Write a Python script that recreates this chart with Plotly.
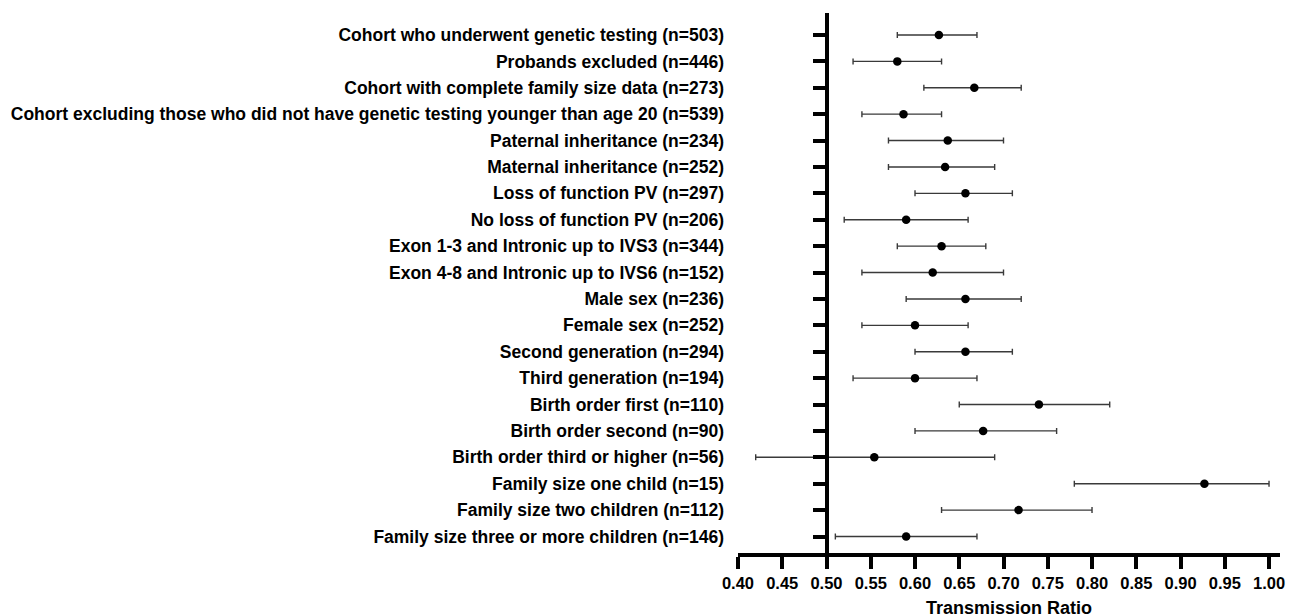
import plotly.graph_objects as go

labels = [
    "Cohort who underwent genetic testing (n=503)",
    "Probands excluded (n=446)",
    "Cohort with complete family size data (n=273)",
    "Cohort excluding those who did not have genetic testing younger than age 20 (n=539)",
    "Paternal inheritance (n=234)",
    "Maternal inheritance (n=252)",
    "Loss of function PV (n=297)",
    "No loss of function PV (n=206)",
    "Exon 1-3 and Intronic up to IVS3 (n=344)",
    "Exon 4-8 and Intronic up to IVS6 (n=152)",
    "Male sex (n=236)",
    "Female sex (n=252)",
    "Second generation (n=294)",
    "Third generation (n=194)",
    "Birth order first (n=110)",
    "Birth order second (n=90)",
    "Birth order third or higher (n=56)",
    "Family size one child (n=15)",
    "Family size two children (n=112)",
    "Family size three or more children (n=146)",
]
ratio = [0.627, 0.580, 0.667, 0.587, 0.637, 0.634, 0.657, 0.590, 0.630, 0.620,
         0.657, 0.600, 0.657, 0.600, 0.740, 0.677, 0.554, 0.927, 0.717, 0.590]
ci_low = [0.58, 0.53, 0.61, 0.54, 0.57, 0.57, 0.60, 0.52, 0.58, 0.54,
          0.59, 0.54, 0.60, 0.53, 0.65, 0.60, 0.42, 0.78, 0.63, 0.51]
ci_high = [0.67, 0.63, 0.72, 0.63, 0.70, 0.69, 0.71, 0.66, 0.68, 0.70,
           0.72, 0.66, 0.71, 0.67, 0.82, 0.76, 0.69, 1.00, 0.80, 0.67]
x_ticks = [0.40, 0.45, 0.50, 0.55, 0.60, 0.65, 0.70, 0.75, 0.80, 0.85, 0.90, 0.95, 1.00]

rows = list(range(len(labels)))
plus = [h - r for h, r in zip(ci_high, ratio)]
minus = [r - l for r, l in zip(ratio, ci_low)]

FONT = "Liberation Sans, Arial, sans-serif"
X_RANGE = [0.40, 1.0124]
Y_RANGE = [19.625, -0.833]

fig = go.Figure()
fig.add_trace(go.Scatter(
    x=ratio, y=rows, mode="markers",
    marker=dict(color="black", size=8.5),
    error_x=dict(type="data", symmetric=False, array=plus, arrayminus=minus,
                 color="#3a3a3a", thickness=1.4, width=3),
    showlegend=False, hoverinfo="skip",
))
# invisible trace for the axis drawn at 0.50
fig.add_trace(go.Scatter(x=[0.5], y=[0], yaxis="y2", mode="markers",
                         marker=dict(opacity=0), showlegend=False, hoverinfo="skip"))

pos_050 = (0.50 - X_RANGE[0]) / (X_RANGE[1] - X_RANGE[0])

fig.update_layout(
    width=1296, height=616,
    margin=dict(l=730, r=24, t=5, b=70.5),
    plot_bgcolor="white", paper_bgcolor="white",
    font=dict(family=FONT, color="black"),
    xaxis=dict(
        range=X_RANGE, tickvals=x_ticks,
        ticktext=[f"{v:.2f}" for v in x_ticks],
        showline=True, linecolor="black", linewidth=3.5,
        ticks="outside", ticklen=12, tickwidth=3.5, tickcolor="black",
        showgrid=False, zeroline=False, automargin=False,
        tickfont=dict(size=16.5, family=FONT, weight="bold"),
        title=dict(text="<b>Transmission Ratio</b>", font=dict(size=18, family=FONT), standoff=12),
    ),
    yaxis=dict(
        range=Y_RANGE, tickvals=rows, ticktext=[f"<b>{t}</b>" for t in labels],
        showline=False, ticks="", showgrid=False, zeroline=False, automargin=False,
        tickfont=dict(size=17.5, family=FONT), ticklabelstandoff=13,
    ),
    yaxis2=dict(
        overlaying="y", anchor="free", position=pos_050,
        range=Y_RANGE, tickvals=rows, showticklabels=False,
        showline=True, linecolor="black", linewidth=3.5,
        ticks="outside", ticklen=12, tickwidth=3.5, tickcolor="black",
        showgrid=False, zeroline=False, automargin=False,
    ),
)

fig.write_html("out.html")
